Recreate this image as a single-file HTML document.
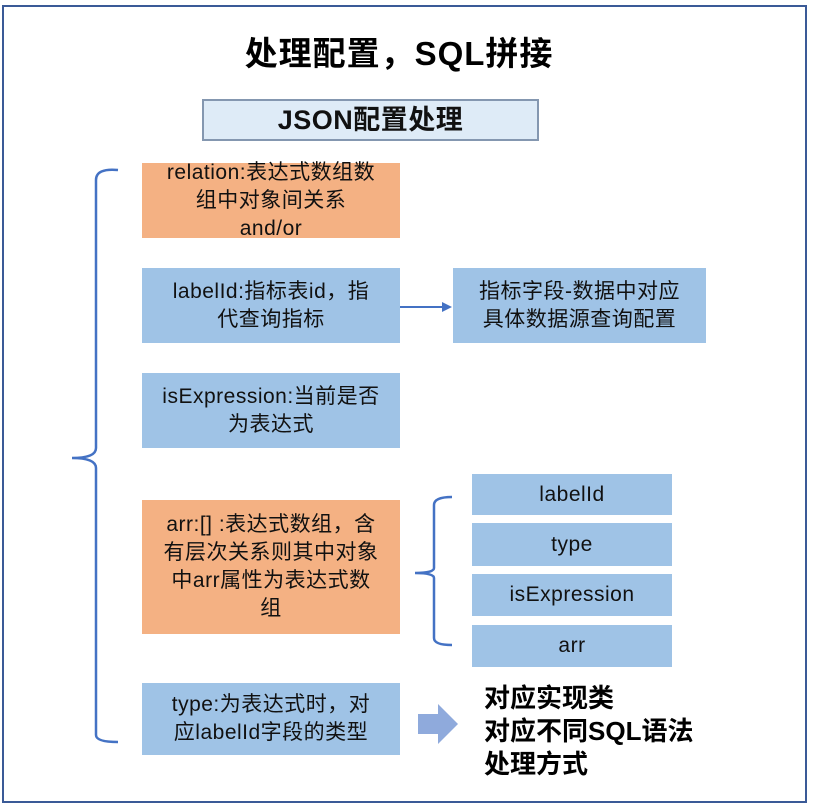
<!DOCTYPE html>
<html><head><meta charset="utf-8"><style>
body{margin:0;width:814px;height:810px;background:#fff;position:relative;overflow:hidden;font-family:"Liberation Sans","Noto Sans CJK SC",sans-serif;}
.b{position:absolute;display:flex;align-items:center;justify-content:center;text-align:center;font-size:21px;line-height:28px;color:#111;box-sizing:border-box;padding:0 2px;white-space:nowrap;letter-spacing:0.5px;}
.o{background:#f4b183}.u{background:#9fc3e6}
</style></head><body>
<div style="position:absolute;left:2px;top:5px;width:801px;height:794px;border:2px solid #3a5a97;"></div>
<div style="position:absolute;left:0;width:798px;top:27px;text-align:center;font-size:33px;font-weight:bold;letter-spacing:1px;">处理配置，SQL拼接</div>
<div class="b" style="left:202px;top:99px;width:337px;height:42px;background:#deebf7;border:2px solid #8497b0;font-size:27px;font-weight:bold;">JSON配置处理</div>
<div class="b o" style="left:142px;top:163px;width:258px;height:75px;">relation:表达式数组数<br>组中对象间关系<br>and/or</div>
<div class="b u" style="left:142px;top:268px;width:258px;height:75px;">labelId:指标表id，指<br>代查询指标</div>
<div class="b u" style="left:453px;top:268px;width:253px;height:75px;">指标字段-数据中对应<br>具体数据源查询配置</div>
<div class="b u" style="left:142px;top:373px;width:258px;height:75px;">isExpression:当前是否<br>为表达式</div>
<div class="b o" style="left:142px;top:500px;width:258px;height:134px;">arr:[] :表达式数组，含<br>有层次关系则其中对象<br>中arr属性为表达式数<br>组</div>
<div class="b u" style="left:472px;top:474px;width:200px;height:41px;">labelId</div>
<div class="b u" style="left:472px;top:523px;width:200px;height:43px;">type</div>
<div class="b u" style="left:472px;top:574px;width:200px;height:42px;">isExpression</div>
<div class="b u" style="left:472px;top:625px;width:200px;height:42px;">arr</div>
<div class="b u" style="left:142px;top:683px;width:258px;height:72px;">type:为表达式时，对<br>应labelId字段的类型</div>
<div style="position:absolute;left:484px;top:682px;font-size:26px;line-height:33px;font-weight:bold;">对应实现类<br>对应不同SQL语法<br>处理方式</div>
<svg width="814" height="810" style="position:absolute;left:0;top:0">
<path d="M118 170 Q96 168 96 180 L96 448 Q96 458 72 458 Q96 458 96 468 L96 735 Q96 742 118 742" fill="none" stroke="#4472c4" stroke-width="2.5"/>
<path d="M452 497 Q434 497 434 505 L434 568 Q434 573 415 573 Q434 573 434 578 L434 638 Q434 645 452 645" fill="none" stroke="#4472c4" stroke-width="2.5"/>
<line x1="400" y1="307" x2="444" y2="307" stroke="#4472c4" stroke-width="2"/>
<polygon points="452,307 442,302 442,312" fill="#4472c4"/>
<polygon points="418,714 438,714 438,704 458,724 438,744 438,734 418,734" fill="#8faadc"/>
</svg>
</body></html>
